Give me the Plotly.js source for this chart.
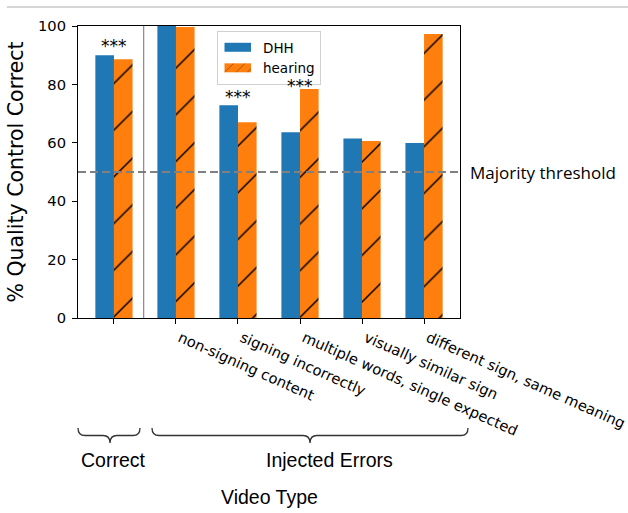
<!DOCTYPE html>
<html>
<head>
<meta charset="utf-8">
<script src="https://cdn.plot.ly/plotly-3.0.1.min.js"></script>
<style>html,body{margin:0;padding:0;background:#fff;}#chart{width:628px;height:513px;}</style>
</head>
<body>
<div id="chart"></div>
<script>
// ---- data ----
const categories = ["correct", "non-signing content", "signing incorrectly", "multiple words, single expected", "visually similar sign", "different sign, same meaning"];
const tickLabels = ["", "non-signing content", "signing incorrectly", "multiple words, single expected", "visually similar sign", "different sign, same meaning"];
const dhhValues = [90.0, 100.0, 72.9, 63.6, 61.5, 59.9];
const hearingValues = [88.6, 99.7, 67.0, 78.4, 60.6, 97.3];
const significant = [true, true, true, true, false, true];
const starY = [93.1, 103.1, 75.7, 79.4, 0, 102.1];
const threshold = 50;
const groupLabels = ["Correct", "Injected Errors"];

// ---- layout helpers (plot area in pixels) ----
const W = 628, H = 513;
const PL = 78, PR = 460, PT = 26, PB = 318;
const px = x => (x - PL) / (PR - PL);
const py = y => (PB - y) / (PB - PT);

const xIdx = categories.map((c, i) => i);

const BLUE = '#1f77b4', ORANGE = '#ff7f0e';

const traces = [
  {
    type: 'bar', name: 'DHH', x: xIdx, y: dhhValues,
    width: 0.3, offset: -0.3,
    marker: {color: BLUE, line: {width: 0}},
    hoverinfo: 'skip'
  },
  {
    type: 'bar', name: 'hearing', x: xIdx, y: hearingValues,
    width: 0.3, offset: 0,
    marker: {color: ORANGE, line: {width: 0},
      pattern: {shape: '/', fgcolor: '#000', bgcolor: ORANGE, size: 33, solidity: 0.045, fillmode: 'replace'}},
    hoverinfo: 'skip'
  }
];

function brace(x0, x1, xm, y0, ym, yt, r) {
  const P = (x, y) => px(x).toFixed(5) + ',' + py(y).toFixed(5);
  return 'M' + P(x0, y0) + ' Q' + P(x0, ym) + ' ' + P(x0 + r, ym) +
    ' L' + P(xm - r, ym) + ' Q' + P(xm, ym) + ' ' + P(xm, yt) +
    ' M' + P(xm, yt) + ' Q' + P(xm, ym) + ' ' + P(xm + r, ym) +
    ' L' + P(x1 - r, ym) + ' Q' + P(x1, ym) + ' ' + P(x1, y0);
}

const shapes = [
  {type: 'line', xref: 'paper', yref: 'y', x0: 0, x1: 1, y0: threshold, y1: threshold,
   line: {color: '#808080', width: 2, dash: '8px,4px'}},
  {type: 'line', xref: 'x', yref: 'paper', x0: 0.48, x1: 0.48, y0: 0, y1: 1,
   line: {color: '#707070', width: 1}},
  {type: 'line', xref: 'paper', yref: 'paper', x0: px(7), x1: px(628), y0: py(7), y1: py(7),
   line: {color: '#c8c8c8', width: 1.5}},
  {type: 'path', xref: 'paper', yref: 'paper', path: brace(78, 140, 110, 428, 435.5, 443, 7),
   line: {color: '#333', width: 1.3}},
  {type: 'path', xref: 'paper', yref: 'paper', path: brace(152, 468, 310, 428, 435.5, 443, 7),
   line: {color: '#333', width: 1.3}}
];

const annotations = [];
xIdx.forEach(i => {
  if (significant[i]) {
    annotations.push({x: i, y: starY[i], xref: 'x', yref: 'y', text: '***', showarrow: false,
      xanchor: 'center', yanchor: 'middle', font: {family: 'DejaVu Sans', size: 17, color: '#000'}});
  }
});
annotations.push({xref: 'paper', yref: 'y', x: px(468), y: threshold, text: 'Majority threshold',
  showarrow: false, xanchor: 'left', yanchor: 'middle', font: {family: 'Open Sans', size: 17, color: '#000'}});
annotations.push({xref: 'paper', yref: 'paper', x: px(113.5), y: py(460), text: groupLabels[0],
  showarrow: false, xanchor: 'center', yanchor: 'middle', font: {family: 'Liberation Sans', size: 19.5, color: '#000'}});
annotations.push({xref: 'paper', yref: 'paper', x: px(329.5), y: py(460), text: groupLabels[1],
  showarrow: false, xanchor: 'center', yanchor: 'middle', font: {family: 'Liberation Sans', size: 19.5, color: '#000'}});
annotations.push({xref: 'paper', yref: 'paper', x: px(269.5), y: py(497), text: 'Video Type',
  showarrow: false, xanchor: 'center', yanchor: 'middle', font: {family: 'Liberation Sans', size: 19.5, color: '#000'}});

const layout = {
  width: W, height: H,
  margin: {l: PL, r: W - PR, t: PT, b: H - PB, pad: 0},
  paper_bgcolor: '#fff', plot_bgcolor: '#fff',
  barmode: 'overlay',
  showlegend: true,
  legend: {x: px(217), y: py(31), xanchor: 'left', yanchor: 'top',
    bgcolor: 'rgba(255,255,255,0.8)', bordercolor: '#d0d0d0', borderwidth: 1,
    font: {family: 'DejaVu Sans', size: 13.5, color: '#000'}, itemwidth: 35, tracegroupgap: 0},
  xaxis: {
    range: [-0.58, 5.58], tickvals: xIdx, ticktext: tickLabels, tickangle: 24,
    ticklabeloverflow: 'allow', ticklabelshift: 4,
    showline: true, mirror: true, linecolor: '#000', linewidth: 1,
    ticks: 'outside', ticklen: 5, tickcolor: '#000', showgrid: false, zeroline: false,
    tickfont: {family: 'DejaVu Sans', size: 14.7, color: '#000'}
  },
  yaxis: {
    range: [0, 100], tickvals: [0, 20, 40, 60, 80, 100],
    showline: true, mirror: true, linecolor: '#000', linewidth: 1,
    ticks: 'outside', ticklen: 5, tickcolor: '#000', showgrid: false, zeroline: false,
    ticklabelstandoff: 3,
    tickfont: {family: 'DejaVu Sans', size: 14.7, color: '#000'},
    title: {text: '% Quality Control Correct', font: {family: 'DejaVu Sans', size: 20.5, color: '#000'}, standoff: 8}
  },
  shapes: shapes,
  annotations: annotations
};

function widenLegendSwatches() {
  document.querySelectorAll('.legend .legendpoints path').forEach(p => {
    p.setAttribute('d', 'M10.5,4.5H-16V-4.5H10.5Z');
  });
}

const gd = document.getElementById('chart');
Plotly.newPlot(gd, traces, layout, {displayModeBar: false, staticPlot: true}).then(() => {
  widenLegendSwatches();
  setTimeout(widenLegendSwatches, 50);
});
gd.on && gd.on('plotly_afterplot', widenLegendSwatches);
</script>
</body>
</html>
